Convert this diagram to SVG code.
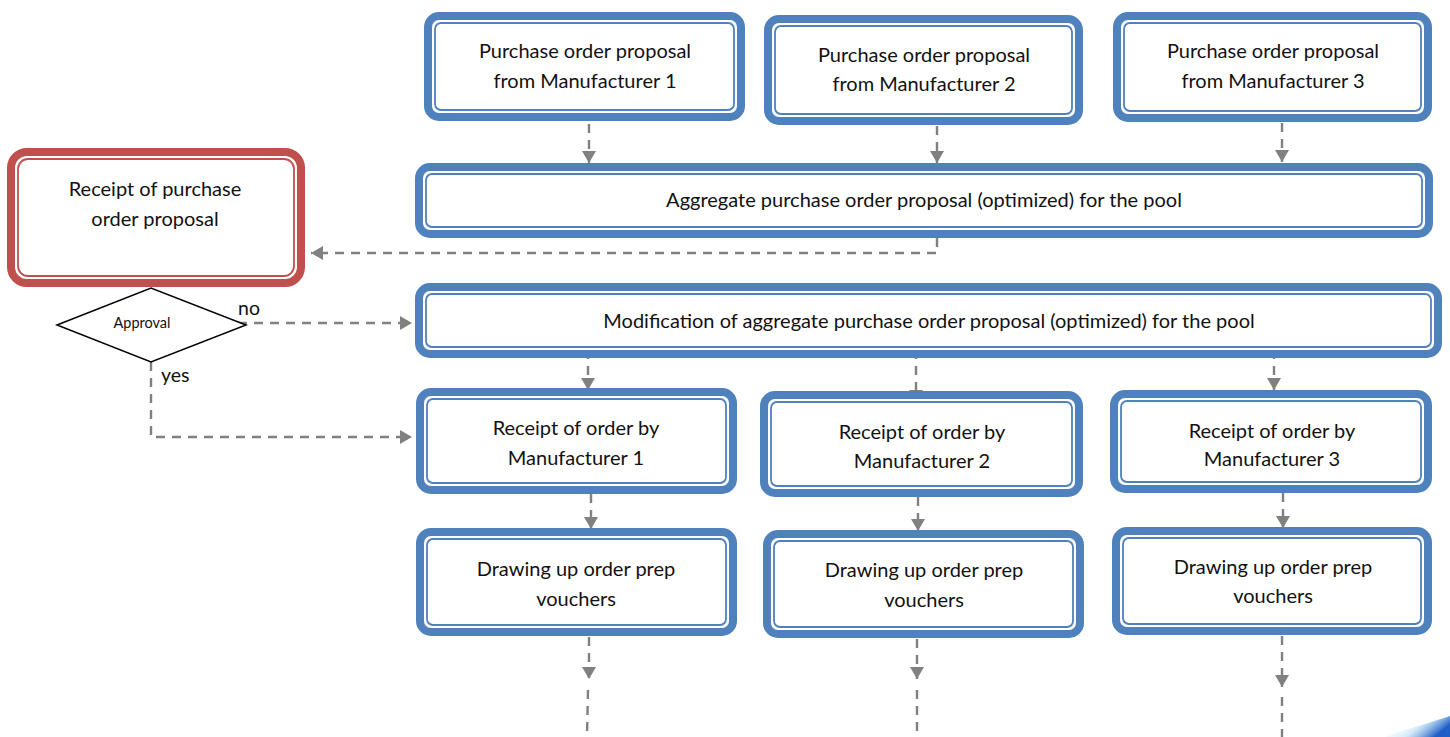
<svg xmlns="http://www.w3.org/2000/svg" width="1450" height="737" viewBox="0 0 1450 737">
  <defs>
    <style>
      .outer { fill: #ffffff; stroke: #4F81BD; stroke-width: 8; }
      .inner { fill: none; stroke: #4F81BD; stroke-width: 1.8; }
      .outer-red { fill: #ffffff; stroke: #C0504D; stroke-width: 8; }
      .inner-red { fill: none; stroke: #C0504D; stroke-width: 1.8; }
      .label { font-family: Lato, "Liberation Sans", sans-serif; font-size: 20px; fill: #111111; text-anchor: middle; }
      .small { font-family: Lato, "Liberation Sans", sans-serif; font-size: 14.5px; fill: #111111; text-anchor: middle; }
      .edge-label { font-family: Lato, "Liberation Sans", sans-serif; font-size: 19.5px; fill: #111111; }
      .flow { fill: none; stroke: #808080; stroke-width: 2.4; stroke-dasharray: 9 7; marker-end: url(#head); }
      .flow-plain { fill: none; stroke: #808080; stroke-width: 2.4; stroke-dasharray: 9 7; }
      .decision { fill: #ffffff; stroke: #000000; stroke-width: 1.5; }
    </style>
    <marker id="head" viewBox="0 0 12 14" refX="12" refY="7" markerWidth="12" markerHeight="14" markerUnits="userSpaceOnUse" orient="auto">
      <path d="M0,0 L12,7 L0,14 Z" fill="#808080"/>
    </marker>
    <linearGradient id="swoosh" x1="0" y1="0" x2="1" y2="0.4">
      <stop offset="0" stop-color="#ffffff" stop-opacity="0"/>
      <stop offset="0.6" stop-color="#bfe3f7" stop-opacity="0.6"/>
      <stop offset="1" stop-color="#1e5fc8"/>
    </linearGradient>
  </defs>

  <rect x="0" y="0" width="1450" height="737" fill="#ffffff"/>

  <!-- decorative corner swoosh -->
  <path d="M1385,737 C1410,728 1432,722 1450,716 L1450,737 Z" fill="url(#swoosh)"/>

  <!-- connectors -->
  <g id="connectors">
    <path class="flow" d="M589,124 L589,163"/>
    <path class="flow" d="M937,126 L937,163"/>
    <path class="flow" d="M1282,123 L1282,162"/>
    <path class="flow" d="M937,238 L937,253 L311,253"/>
    <path class="flow" d="M222,323 L412,323"/>
    <path class="flow" d="M151,362 L151,437 L412,437"/>
    <path class="flow" d="M588,350 L588,390"/>
    <path class="flow" d="M916,350 L916,402"/>
    <path class="flow" d="M1274,350 L1274,390"/>
    <path class="flow" d="M591,494 L591,529"/>
    <path class="flow" d="M918,497 L918,531"/>
    <path class="flow" d="M1283,493 L1283,528"/>
    <path class="flow" d="M589,637 L589,679"/>
    <path class="flow-plain" d="M588,690 L587,737"/>
    <path class="flow" d="M917,639 L917,679"/>
    <path class="flow-plain" d="M917,690 L917,737"/>
    <path class="flow" d="M1282,636 L1282,687"/>
    <path class="flow-plain" d="M1282,697 L1282,737"/>
  </g>

  <g id="po-m1">
    <rect class="outer" x="428" y="16" width="313" height="101" rx="11"/>
    <rect class="inner" x="435" y="23" width="299" height="87" rx="6"/>
    <text class="label" x="585" y="58">Purchase order proposal</text>
    <text class="label" x="585" y="88">from Manufacturer 1</text>
  </g>

  <g id="po-m2">
    <rect class="outer" x="768" y="19" width="311" height="102" rx="11"/>
    <rect class="inner" x="775" y="26" width="297" height="88" rx="6"/>
    <text class="label" x="924" y="62">Purchase order proposal</text>
    <text class="label" x="924" y="91">from Manufacturer 2</text>
  </g>

  <g id="po-m3">
    <rect class="outer" x="1117" y="16" width="311" height="102" rx="11"/>
    <rect class="inner" x="1124" y="23" width="297" height="88" rx="6"/>
    <text class="label" x="1273" y="58">Purchase order proposal</text>
    <text class="label" x="1273" y="88">from Manufacturer 3</text>
  </g>

  <g id="aggregate">
    <rect class="outer" x="419" y="167" width="1010" height="67" rx="11"/>
    <rect class="inner" x="426" y="174" width="996" height="53" rx="6"/>
    <text class="label" x="924" y="207">Aggregate purchase order proposal (optimized) for the pool</text>
  </g>

  <g id="receipt-proposal">
    <rect class="outer-red" x="11" y="152" width="290" height="131" rx="16"/>
    <rect class="inner-red" x="18" y="159" width="276" height="117" rx="10"/>
    <text class="label" x="155" y="196">Receipt of purchase</text>
    <text class="label" x="155" y="226">order proposal</text>
  </g>

  <g id="approval">
    <path class="decision" d="M57,325 L151,288 L246,325 L151,362 Z"/>
    <text class="small" x="142" y="328">Approval</text>
    <text class="edge-label" x="238" y="315">no</text>
    <text class="edge-label" x="161" y="382">yes</text>
  </g>

  <g id="modification">
    <rect class="outer" x="419" y="287" width="1019" height="67" rx="11"/>
    <rect class="inner" x="426" y="294" width="1005" height="53" rx="6"/>
    <text class="label" x="929" y="328">Modification of aggregate purchase order proposal (optimized) for the pool</text>
  </g>

  <g id="receipt-m1">
    <rect class="outer" x="420" y="392" width="313" height="98" rx="11"/>
    <rect class="inner" x="427" y="399" width="299" height="84" rx="6"/>
    <text class="label" x="576" y="435">Receipt of order by</text>
    <text class="label" x="576" y="465">Manufacturer 1</text>
  </g>

  <g id="receipt-m2">
    <rect class="outer" x="764" y="395" width="315" height="98" rx="11"/>
    <rect class="inner" x="771" y="402" width="301" height="84" rx="6"/>
    <text class="label" x="922" y="439">Receipt of order by</text>
    <text class="label" x="922" y="468">Manufacturer 2</text>
  </g>

  <g id="receipt-m3">
    <rect class="outer" x="1114" y="394" width="314" height="95" rx="11"/>
    <rect class="inner" x="1121" y="401" width="300" height="81" rx="6"/>
    <text class="label" x="1272" y="438">Receipt of order by</text>
    <text class="label" x="1272" y="466">Manufacturer 3</text>
  </g>

  <g id="vouchers-m1">
    <rect class="outer" x="420" y="532" width="313" height="100" rx="11"/>
    <rect class="inner" x="427" y="539" width="299" height="86" rx="6"/>
    <text class="label" x="576" y="576">Drawing up order prep</text>
    <text class="label" x="576" y="606">vouchers</text>
  </g>

  <g id="vouchers-m2">
    <rect class="outer" x="767" y="534" width="313" height="100" rx="11"/>
    <rect class="inner" x="774" y="541" width="299" height="86" rx="6"/>
    <text class="label" x="924" y="577">Drawing up order prep</text>
    <text class="label" x="924" y="607">vouchers</text>
  </g>

  <g id="vouchers-m3">
    <rect class="outer" x="1116" y="531" width="312" height="100" rx="11"/>
    <rect class="inner" x="1123" y="538" width="298" height="86" rx="6"/>
    <text class="label" x="1273" y="574">Drawing up order prep</text>
    <text class="label" x="1273" y="603">vouchers</text>
  </g>
</svg>
